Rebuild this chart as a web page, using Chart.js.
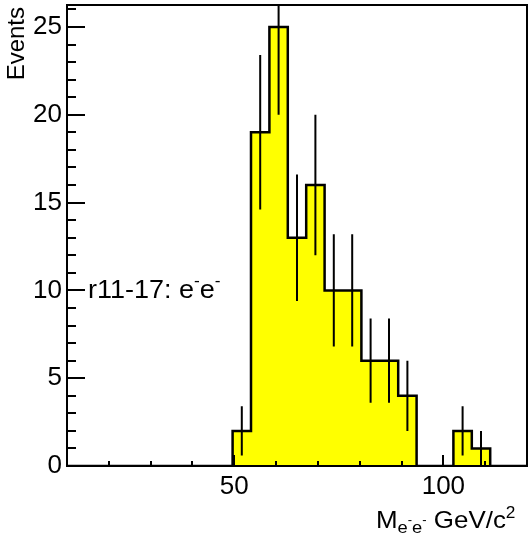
<!DOCTYPE html>
<html>
<head>
<meta charset="utf-8">
<script src="https://cdn.jsdelivr.net/npm/chart.js@4.4.0/dist/chart.umd.min.js"></script>
<style>
  html, body { margin: 0; padding: 0; background: #fff; }
</style>
</head>
<body>
<canvas id="histo" width="529" height="533"></canvas>
<script>
// binning of the mass histogram (GeV/c^2)
const xLow = 10;
const binWidth = 4.4;
// events per bin, 25 bins from 10 to 120
const counts = [0, 0, 0, 0, 0, 0, 0, 0, 0, 2, 19, 25, 13, 16, 10, 10, 6, 6, 4, 0, 0, 2, 1, 0, 0];
// half length of the error bars
const errors = [0, 0, 0, 0, 0, 0, 0, 0, 0, 1.4, 4.4, 5, 3.6, 4, 3.2, 3.2, 2.4, 2.4, 2, 0, 0, 1.4, 1, 0, 0];
const xTickLabels = [50, 100];
const yTickLabels = [0, 5, 10, 15, 20, 25];
const xMin = 10, xMax = 120;
const yMax = 26.25;

const FONT = '"Liberation Sans", Arial, Helvetica, sans-serif';

// step outline: one point at each lower bin edge, plus the last upper edge
const stepPts = counts.map((c, i) => ({ x: xLow + i * binWidth, y: c }));
stepPts.push({ x: xLow + counts.length * binWidth, y: 0 });

// error bars as separate segments (gaps between them)
const errPts = [];
counts.forEach((c, i) => {
  if (!c) return;
  const xc = xLow + (i + 0.5) * binWidth;
  errPts.push({ x: xc, y: c - errors[i] }, { x: xc, y: c + errors[i] }, { x: xc, y: null });
});

// frame with inward ticks, like a ROOT pad
const framePlugin = {
  id: 'frame',
  afterDatasetsDraw(chart) {
    const { ctx, chartArea: a, scales: { x, y } } = chart;
    ctx.save();
    ctx.strokeStyle = '#000';
    ctx.lineWidth = 2;
    ctx.beginPath();
    for (let v = 20; v < xMax; v += 10) {
      const px = Math.round(x.getPixelForValue(v));
      const len = v % 50 === 0 ? 11 : 5;
      ctx.moveTo(px, a.bottom);
      ctx.lineTo(px, a.bottom - len);
    }
    for (let v = 1; v < yMax; v += 1) {
      const py = Math.round(y.getPixelForValue(v));
      const len = v % 5 === 0 ? 18 : 9;
      ctx.moveTo(a.left, py);
      ctx.lineTo(a.left + len, py);
    }
    ctx.stroke();
    ctx.strokeRect(a.left, a.top, a.right - a.left, a.bottom - a.top);
    ctx.restore();
  },
  afterDraw(chart) {
    const ctx = chart.ctx;
    const sx = 1.08;
    ctx.save();
    ctx.fillStyle = '#000';
    ctx.textBaseline = 'alphabetic';

    // y title
    ctx.save();
    ctx.translate(24, 7);
    ctx.rotate(-Math.PI / 2);
    ctx.textAlign = 'right';
    ctx.font = '24px ' + FONT;
    ctx.fillText('Events', 0, 0);
    ctx.restore();

    // run label
    ctx.save();
    ctx.translate(88, 298);
    ctx.scale(sx, 1);
    ctx.textAlign = 'left';
    let cx = 0;
    ctx.font = '25px ' + FONT;
    ctx.fillText('r11-17: e', cx, 0);
    cx += ctx.measureText('r11-17: e').width;
    ctx.font = '16px ' + FONT;
    ctx.fillText('-', cx, -12);
    cx += ctx.measureText('-').width;
    ctx.font = '25px ' + FONT;
    ctx.fillText('e', cx, 0);
    cx += ctx.measureText('e').width;
    ctx.font = '16px ' + FONT;
    ctx.fillText('-', cx, -12);
    ctx.restore();

    // x title
    ctx.save();
    ctx.translate(376, 528);
    ctx.scale(sx, 1);
    ctx.textAlign = 'left';
    cx = 0;
    ctx.font = '24px ' + FONT;
    ctx.fillText('M', cx, 0);
    cx += ctx.measureText('M').width;
    ctx.font = '17px ' + FONT;
    ctx.fillText('e', cx, 5);
    cx += ctx.measureText('e').width;
    ctx.font = '12px ' + FONT;
    ctx.fillText('-', cx, -4);
    cx += ctx.measureText('-').width;
    ctx.font = '17px ' + FONT;
    ctx.fillText('e', cx, 5);
    cx += ctx.measureText('e').width;
    ctx.font = '12px ' + FONT;
    ctx.fillText('-', cx, -4);
    cx += ctx.measureText('-').width;
    ctx.font = '24px ' + FONT;
    ctx.fillText(' GeV/c', cx, 0);
    cx += ctx.measureText(' GeV/c').width;
    ctx.font = '16px ' + FONT;
    ctx.fillText('2', cx, -10);
    ctx.restore();

    ctx.restore();
  }
};

new Chart(document.getElementById('histo'), {
  type: 'line',
  data: {
    datasets: [
      {
        data: errPts,
        borderColor: '#000',
        borderWidth: 2,
        pointRadius: 0,
        spanGaps: false,
        fill: false,
        order: 0
      },
      {
        data: stepPts,
        stepped: true,
        fill: 'origin',
        backgroundColor: '#ffff00',
        borderColor: '#000',
        borderWidth: 2.5,
        borderJoinStyle: 'miter',
        pointRadius: 0,
        order: 1
      }
    ]
  },
  options: {
    responsive: false,
    animation: false,
    layout: { padding: { top: 5, right: 2, left: 0, bottom: 0 } },
    plugins: {
      legend: { display: false },
      tooltip: { enabled: false }
    },
    scales: {
      x: {
        type: 'linear',
        min: xMin,
        max: xMax,
        grid: { display: false, drawTicks: false },
        border: { display: false },
        afterBuildTicks: s => { s.ticks = xTickLabels.map(v => ({ value: v })); },
        afterFit: s => { s.height = 67; s.paddingLeft = 0; s.paddingRight = 0; },
        ticks: {
          autoSkip: false,
          maxRotation: 0,
          padding: 5,
          color: '#000',
          font: { family: FONT, size: 26 }
        }
      },
      y: {
        min: 0,
        max: yMax,
        grid: { display: false, drawTicks: false },
        border: { display: false },
        afterBuildTicks: s => { s.ticks = yTickLabels.map(v => ({ value: v })); },
        afterFit: s => { s.width = 67; s.paddingTop = 0; s.paddingBottom = 0; },
        ticks: {
          padding: 5,
          color: '#000',
          font: { family: FONT, size: 26 }
        }
      }
    }
  },
  plugins: [framePlugin]
});
</script>
</body>
</html>
